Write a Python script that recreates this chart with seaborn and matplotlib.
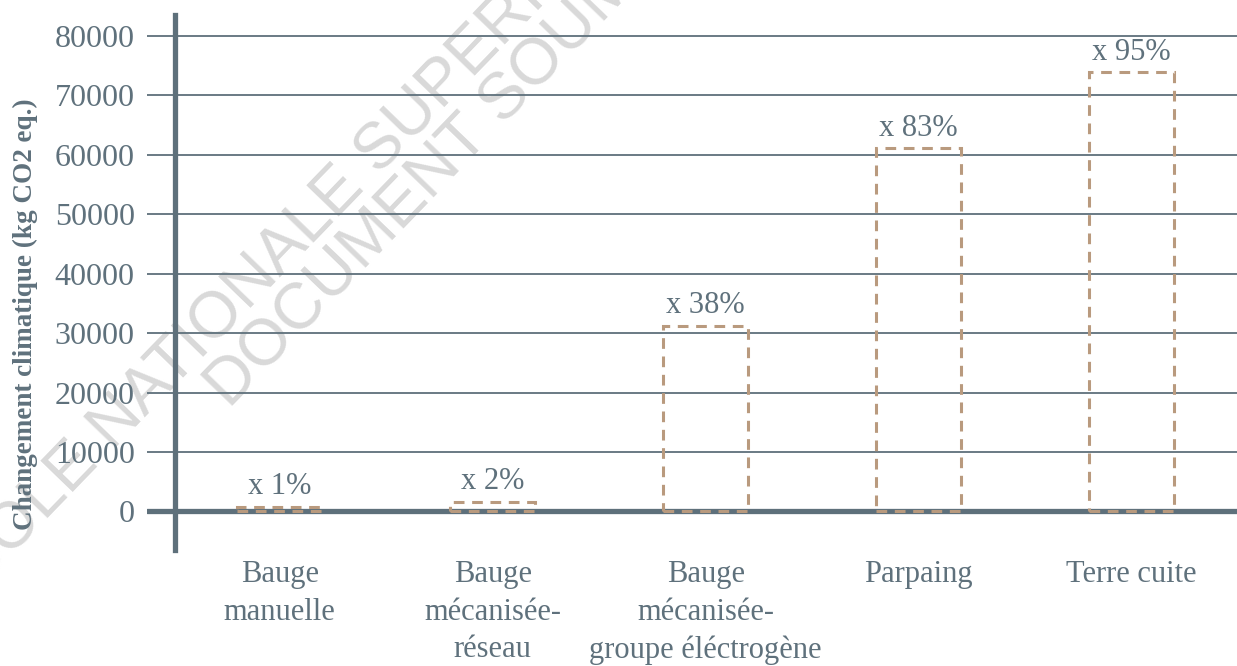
import pandas as pd
import matplotlib
matplotlib.use("Agg")
import matplotlib.pyplot as plt
import seaborn as sns

# Data
categories = ["Bauge\nmanuelle", "Bauge\nmécanisée-\nréseau",
              "Bauge\nmécanisée-\ngroupe éléctrogène", "Parpaing", "Terre cuite"]
values = [800, 1600, 31200, 61100, 73900]
bar_labels = ["x 1%", "x 2%", "x 38%", "x 83%", "x 95%"]
y_ticks = [0, 10000, 20000, 30000, 40000, 50000, 60000, 70000, 80000]

line_col = "#5e707b"
text_col = "#5f717c"
bar_col = "#b99a7e"

sns.set_theme(style="white")
plt.rcParams['font.family'] = ['Liberation Serif', 'DejaVu Serif']

fig = plt.figure(figsize=(12.37, 6.66), dpi=100)
fig.patch.set_facecolor("white")

# watermark behind the chart
wm = dict(rotation=46, rotation_mode='anchor', ha='left', va='baseline',
          fontsize=47, color='#d9d9d9', family=['Liberation Sans', 'DejaVu Sans'],
          zorder=-5)
fig.text(-0.0428, 0.0631, "ECOLE NATIONALE SUPERIEURE", **wm)
fig.text(0.186, 0.3844, "DOCUMENT SOUMIS", **wm)

ax = fig.add_axes([0.1188, 0.1742, 0.8812, 0.8033])
ax.patch.set_alpha(0)

df = pd.DataFrame({"cat": categories, "val": values})
sns.barplot(data=df, x="cat", y="val", ax=ax, width=0.4, color="white")

for p in ax.patches:
    p.set_facecolor("none")
    p.set_edgecolor(bar_col)
    p.set_linewidth(2.2)
    p.set_linestyle((0, (3.5, 2.5)))
    p.set_zorder(4)

ax.bar_label(ax.containers[0], labels=bar_labels, padding=4,
             fontsize=22, color=text_col)

ax.set_xlim(-0.623, 4.495)
ax.set_ylim(-6500, 83530)
ax.set_yticks(y_ticks)
ax.set_yticklabels([str(t) for t in y_ticks])

ax.yaxis.grid(True, color=line_col, linewidth=1.3)
ax.set_axisbelow(True)
ax.axhline(0, color=line_col, linewidth=3.8, zorder=3)

for s in ["top", "right", "bottom"]:
    ax.spines[s].set_visible(False)
ax.spines["left"].set_position(("data", -0.491))
ax.spines["left"].set_color(line_col)
ax.spines["left"].set_linewidth(3.8)

ax.tick_params(axis='y', length=0, pad=29, labelsize=23, labelcolor=text_col)
ax.tick_params(axis='x', length=0, pad=7, labelsize=22, labelcolor=text_col)
for t in ax.get_xticklabels():
    t.set_linespacing(1.4)

ax.set_xlabel("")
ax.set_ylabel("Changement climatique (kg CO2 eq.)", fontsize=19.5,
              fontweight='bold', color=text_col)
ax.yaxis.set_label_coords(-0.1, 0.44)

fig.savefig("out.png", dpi=100)
